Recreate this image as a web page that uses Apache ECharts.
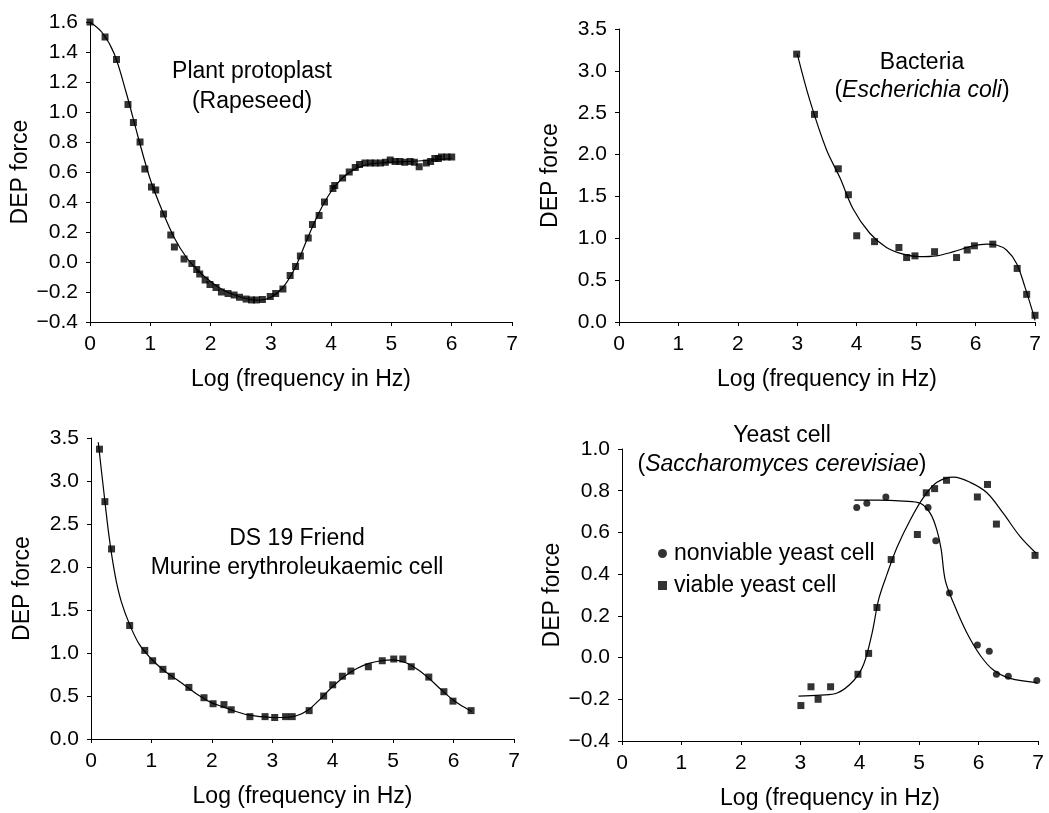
<!DOCTYPE html>
<html>
<head>
<meta charset="utf-8">
<title>DEP force spectra</title>
<script src="https://cdn.jsdelivr.net/npm/echarts@6/dist/echarts.min.js"></script>
<style>
    html, body { margin: 0; padding: 0; background: #fff; }
    #main { width: 1049px; height: 813px; }
</style>
</head>
<body>
<div id="main"></div>
<script>
// x axis is shared by all four panels
var xTicks = [0, 1, 2, 3, 4, 5, 6, 7];

// plant protoplast (rapeseed)
var plantYTicks = [-0.4, -0.2, 0.0, 0.2, 0.4, 0.6, 0.8, 1.0, 1.2, 1.4, 1.6];
var plantPoints = [[0, 1.6], [0.25, 1.50], [0.44, 1.35], [0.63, 1.05], [0.72, 0.93], [0.83, 0.80], [0.91, 0.62],
    [1.02, 0.50], [1.09, 0.48], [1.22, 0.32], [1.34, 0.18], [1.40, 0.10], [1.56, 0.02], [1.69, -0.01], [1.77, -0.05],
    [1.82, -0.08], [1.91, -0.12], [1.99, -0.15], [2.09, -0.17], [2.18, -0.20], [2.29, -0.21], [2.39, -0.22],
    [2.48, -0.235], [2.59, -0.247], [2.68, -0.253], [2.76, -0.253], [2.86, -0.25], [2.99, -0.23], [3.08, -0.21],
    [3.20, -0.18], [3.32, -0.09], [3.41, -0.03], [3.49, 0.04], [3.62, 0.16], [3.69, 0.25], [3.80, 0.31], [3.89, 0.40],
    [4.03, 0.49], [4.06, 0.51], [4.19, 0.56], [4.30, 0.60], [4.40, 0.63], [4.47, 0.65], [4.56, 0.66], [4.65, 0.66],
    [4.73, 0.66], [4.82, 0.66], [4.90, 0.665], [4.98, 0.68], [5.06, 0.67], [5.14, 0.67], [5.22, 0.665], [5.31, 0.67],
    [5.38, 0.665], [5.46, 0.635], [5.58, 0.66], [5.65, 0.67], [5.72, 0.69], [5.78, 0.69], [5.83, 0.70], [5.92, 0.70],
    [6.0, 0.70]];
var plantCurve = [[0, 1.6], [0.2, 1.53], [0.4, 1.39], [0.6, 1.13], [0.8, 0.83], [1.0, 0.55], [1.2, 0.34], [1.4, 0.16],
    [1.6, 0.03], [1.8, -0.06], [2.0, -0.13], [2.2, -0.185], [2.4, -0.22], [2.6, -0.245], [2.8, -0.255], [3.0, -0.235],
    [3.2, -0.17], [3.4, -0.04], [3.6, 0.15], [3.8, 0.33], [4.0, 0.47], [4.2, 0.565], [4.4, 0.62], [4.6, 0.65],
    [4.8, 0.66], [5.0, 0.665], [5.5, 0.675], [6.0, 0.69]];

// bacteria (E. coli)
var bactYTicks = [0.0, 0.5, 1.0, 1.5, 2.0, 2.5, 3.0, 3.5];
var bactPoints = [[2.99, 3.20], [3.29, 2.48], [3.69, 1.83], [3.86, 1.52], [4.00, 1.03], [4.30, 0.96], [4.71, 0.89],
    [4.84, 0.77], [4.98, 0.79], [5.31, 0.84], [5.68, 0.77], [5.86, 0.86], [5.98, 0.91], [6.29, 0.93], [6.70, 0.64],
    [6.86, 0.33], [7.00, 0.08]];
var bactCurve = [[3.0, 3.2], [3.21, 2.65], [3.49, 2.06], [3.72, 1.72], [3.94, 1.35], [4.22, 1.06], [4.50, 0.89],
    [4.78, 0.81], [5.06, 0.78], [5.34, 0.79], [5.63, 0.84], [5.91, 0.90], [6.19, 0.93], [6.35, 0.92], [6.52, 0.86],
    [6.69, 0.70], [6.83, 0.42], [6.97, 0.10], [7.0, 0.02]];

// DS 19 friend murine erythroleukaemic cell
var friendYTicks = [0.0, 0.5, 1.0, 1.5, 2.0, 2.5, 3.0, 3.5];
var friendPoints = [[0.14, 3.37], [0.23, 2.76], [0.34, 2.21], [0.64, 1.32], [0.89, 1.03], [1.02, 0.91], [1.19, 0.81],
    [1.33, 0.73], [1.62, 0.60], [1.87, 0.48], [2.02, 0.41], [2.20, 0.40], [2.32, 0.34], [2.63, 0.26], [2.88, 0.26],
    [3.04, 0.25], [3.22, 0.26], [3.33, 0.26], [3.61, 0.33], [3.85, 0.50], [4.00, 0.63], [4.16, 0.73], [4.30, 0.79],
    [4.59, 0.84], [4.82, 0.91], [5.01, 0.93], [5.16, 0.93], [5.30, 0.84], [5.59, 0.72], [5.84, 0.55], [5.99, 0.44],
    [6.29, 0.33]];
var friendCurve = [[0.12, 3.45], [0.2, 2.95], [0.3, 2.35], [0.4, 1.9], [0.5, 1.6], [0.64, 1.33], [0.8, 1.1],
    [1.0, 0.93], [1.2, 0.8], [1.4, 0.7], [1.6, 0.6], [1.8, 0.5], [2.0, 0.42], [2.2, 0.37], [2.4, 0.32], [2.6, 0.28],
    [2.8, 0.26], [3.0, 0.25], [3.2, 0.25], [3.4, 0.27], [3.6, 0.34], [3.8, 0.47], [4.0, 0.61], [4.2, 0.73],
    [4.4, 0.82], [4.6, 0.88], [4.8, 0.91], [5.0, 0.92], [5.2, 0.89], [5.4, 0.81], [5.6, 0.70], [5.8, 0.57],
    [6.0, 0.45], [6.15, 0.38], [6.3, 0.32]];

// yeast cell
var yeastYTicks = [-0.4, -0.2, 0.0, 0.2, 0.4, 0.6, 0.8, 1.0];
var nonviablePoints = [[3.95, 0.72], [4.12, 0.74], [4.44, 0.77], [5.15, 0.72], [5.28, 0.56], [5.51, 0.31],
    [5.98, 0.06], [6.18, 0.03], [6.30, -0.08], [6.50, -0.09], [6.98, -0.11]];
var nonviableCurve = [[3.91, 0.755], [4.3, 0.755], [4.74, 0.75], [5.02, 0.74], [5.19, 0.69], [5.30, 0.61],
    [5.37, 0.52], [5.44, 0.37], [5.58, 0.26], [5.80, 0.12], [6.03, 0.01], [6.25, -0.06], [6.53, -0.10],
    [6.98, -0.12]];
var viablePoints = [[3.01, -0.23], [3.18, -0.14], [3.30, -0.20], [3.51, -0.14], [3.97, -0.08], [4.15, 0.02],
    [4.29, 0.24], [4.53, 0.47], [4.97, 0.59], [5.12, 0.79], [5.26, 0.81], [5.46, 0.85], [5.98, 0.77], [6.15, 0.83],
    [6.30, 0.64], [6.95, 0.49]];
var viableCurve = [[2.97, -0.185], [3.34, -0.18], [3.62, -0.17], [3.90, -0.11], [4.07, -0.03], [4.21, 0.12],
    [4.32, 0.28], [4.46, 0.40], [4.63, 0.53], [4.85, 0.66], [5.08, 0.77], [5.30, 0.84], [5.58, 0.865],
    [5.86, 0.84], [6.14, 0.79], [6.42, 0.69], [6.70, 0.58], [6.97, 0.50]];

var FONT = '"Liberation Sans", Arial, sans-serif';

function tickInterval(ticks) {
    return Math.round((ticks[1] - ticks[0]) * 1000) / 1000;
}

function getXAxis(idx) {
    return {
        type: 'value',
        gridIndex: idx,
        min: xTicks[0],
        max: xTicks[xTicks.length - 1],
        interval: tickInterval(xTicks),
        name: 'Log (frequency in Hz)',
        nameLocation: 'middle',
        nameGap: 46,
        nameTextStyle: { fontSize: 23, fontFamily: FONT, color: '#000' },
        axisLine: { onZero: false, lineStyle: { color: '#000', width: 1 } },
        axisTick: { length: 4, lineStyle: { color: '#000' } },
        axisLabel: { fontSize: 21, fontFamily: FONT, color: '#000', margin: 12 },
        splitLine: { show: false }
    };
}

function getYAxis(idx, ticks) {
    return {
        type: 'value',
        gridIndex: idx,
        min: ticks[0],
        max: ticks[ticks.length - 1],
        interval: tickInterval(ticks),
        name: 'DEP force',
        nameLocation: 'middle',
        nameGap: 57,
        nameTextStyle: { fontSize: 23, fontFamily: FONT, color: '#000' },
        axisLine: { show: true, onZero: false, lineStyle: { color: '#000', width: 1 } },
        axisTick: { show: true, length: 4, lineStyle: { color: '#000' } },
        axisLabel: {
            fontSize: 21, fontFamily: FONT, color: '#000', margin: 12,
            formatter: function (v) {
                return (v < -1e-9 ? '\u2212' : '') + Math.abs(v).toFixed(1);
            }
        },
        splitLine: { show: false }
    };
}

function pointSeries(name, data, idx, symbol) {
    return {
        name: name,
        type: 'scatter',
        xAxisIndex: idx,
        yAxisIndex: idx,
        data: data,
        symbol: symbol,
        symbolSize: 7,
        itemStyle: { color: '#000' },
        z: 3
    };
}

function curveSeries(data, idx) {
    return {
        type: 'line',
        xAxisIndex: idx,
        yAxisIndex: idx,
        data: data,
        smooth: 0.35,
        showSymbol: false,
        silent: true,
        lineStyle: { color: '#000', width: 1.2 },
        z: 2
    };
}

function label(x, y, text, rich) {
    var style = {
        text: text, x: x, y: y, align: 'center', verticalAlign: 'middle',
        fontSize: 23, fontFamily: FONT, fill: '#000'
    };
    if (rich) style.rich = { i: { fontSize: 23, fontFamily: FONT, fontStyle: 'italic', fill: '#000' } };
    return { type: 'text', style: style, z: 10 };
}

var chart = echarts.init(document.getElementById('main'), null, { renderer: 'canvas' });

var option = {
    animation: false,
    backgroundColor: '#fff',
    grid: [
        { left: 90, top: 22, width: 422, height: 300 },
        { left: 619, top: 29, width: 416, height: 293 },
        { left: 91, top: 438, width: 423, height: 301 },
        { left: 622, top: 449, width: 416, height: 292 }
    ],
    xAxis: [getXAxis(0), getXAxis(1), getXAxis(2), getXAxis(3)],
    yAxis: [getYAxis(0, plantYTicks), getYAxis(1, bactYTicks), getYAxis(2, friendYTicks), getYAxis(3, yeastYTicks)],
    legend: {
        orient: 'vertical',
        left: 653,
        top: 537,
        itemWidth: 9,
        itemHeight: 9,
        itemGap: 9,
        selectedMode: false,
        data: [
            { name: 'nonviable yeast cell', icon: 'circle' },
            { name: 'viable yeast cell', icon: 'rect' }
        ],
        textStyle: { fontSize: 23, fontFamily: FONT, color: '#000', padding: [0, 0, 0, 2] }
    },
    graphic: [
        label(252, 72, 'Plant protoplast'),
        label(252, 102, '(Rapeseed)'),
        label(922, 63, 'Bacteria'),
        label(922, 91, '({i|Escherichia coli})', true),
        label(297, 539, 'DS 19 Friend'),
        label(297, 568, 'Murine erythroleukaemic cell'),
        label(782, 436, 'Yeast cell'),
        label(782, 465, '({i|Saccharomyces cerevisiae})', true)
    ],
    series: [
        curveSeries(plantCurve, 0),
        pointSeries('plant', plantPoints, 0, 'rect'),
        curveSeries(bactCurve, 1),
        pointSeries('bacteria', bactPoints, 1, 'rect'),
        curveSeries(friendCurve, 2),
        pointSeries('friend', friendPoints, 2, 'rect'),
        curveSeries(nonviableCurve, 3),
        curveSeries(viableCurve, 3),
        pointSeries('nonviable yeast cell', nonviablePoints, 3, 'circle'),
        pointSeries('viable yeast cell', viablePoints, 3, 'rect')
    ]
};

chart.setOption(option);
</script>
</body>
</html>
